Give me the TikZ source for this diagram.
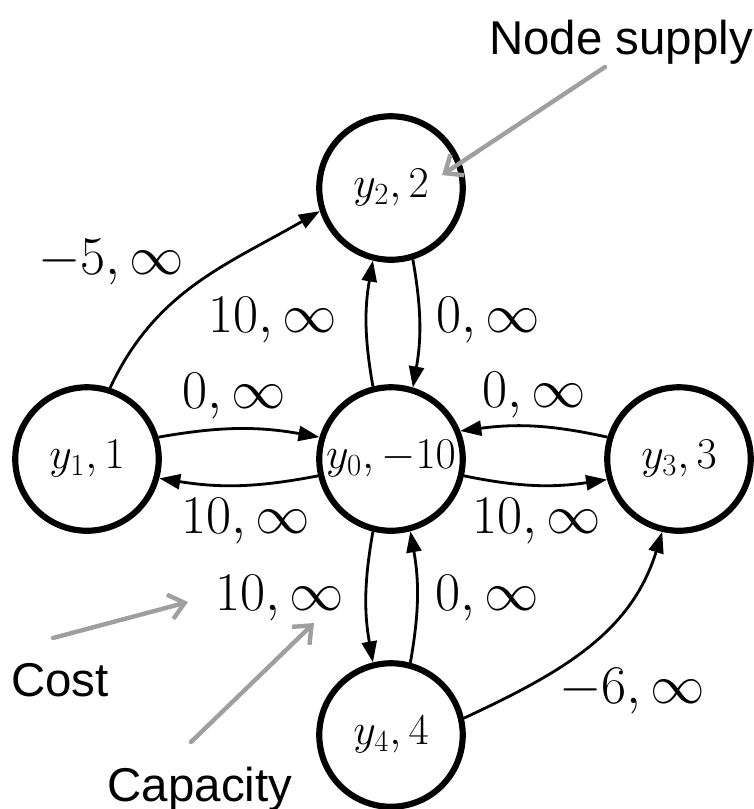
\RequirePackage{fix-cm}
\documentclass[tikz,border=0pt]{standalone}
\usepackage{fontspec}
\newfontfamily\calloutfont{Liberation Sans}
\usetikzlibrary{arrows.meta}

\begin{document}
\begin{tikzpicture}[
    >={Triangle[length=4.2mm, width=3mm]},
    vertex/.style={circle, draw, line width=3.5pt, minimum size=2.87cm,
                   inner sep=0pt, font=\fontsize{25}{25}\selectfont},
    flow/.style={->, line width=1.6pt},
    cost/.style={font=\fontsize{31}{31}\selectfont},
    callout/.style={font=\calloutfont\fontsize{27}{27}\selectfont},
    hint/.style={-{Straight Barb[length=3mm, width=5mm]}, line width=2.5pt,
                 gray!75, line cap=round},
]
\useasboundingbox (0,0) rectangle (15.08,-16.18);
% the five vertices
\node[vertex] (y2) at (7.82,-3.76)  {$y_2, 2$};
\node[vertex] (y1) at (1.74,-9.18)  {$y_1, 1$};
\node[vertex] (y0) at (7.82,-9.18)  {$y_0, -10$};
\node[vertex] (y3) at (13.58,-9.18) {$y_3, 3$};
\node[vertex] (y4) at (7.82,-14.70) {$y_4, 4$};
% arcs round the centre
\draw[flow] (y0.104) to[bend left=10]  (y2.256);
\draw[flow] (y2.287) to[bend left=10]  (y0.73);
\draw[flow] (y1.17)  to[bend left=10]  (y0.163);
\draw[flow] (y0.193) to[bend left=10]  (y1.345);
\draw[flow] (y3.163) to[bend right=10] (y0.22);
\draw[flow] (y0.347) to[bend right=10] (y3.196);
\draw[flow] (y0.256) to[bend right=10] (y4.104);
\draw[flow] (y4.75)  to[bend right=10] (y0.285);
% the two long arcs
\draw[flow] (y1.72) to[out=65, in=210] (y2.198);
\draw[flow] (y4.13) to[out=25, in=253] (y3.257);
% cost, capacity labels
\node[cost] (c12) at (2.22,-5.24)   {$-5, \infty$};
\node[cost] (c02) at (5.46,-6.40)   {$10, \infty$};
\node[cost] (c20) at (9.76,-6.40)   {$0, \infty$};
\node[cost] (c10) at (4.68,-7.92)   {$0, \infty$};
\node[cost] (c01) at (4.92,-10.42)  {$10, \infty$};
\node[cost] (c30) at (10.68,-7.90)  {$0, \infty$};
\node[cost] (c03) at (10.74,-10.42) {$10, \infty$};
\node[cost] (c04) at (5.60,-11.96)  {$10, \infty$};
\node[cost] (c40) at (9.74,-11.96)  {$0, \infty$};
\node[cost] (c43) at (12.64,-13.82) {$-6, \infty$};
% callouts
\node[callout] (supplytext) at (12.42,-0.84) {Node supply};
\node[callout] (costtext) at (1.20,-13.60)   {Cost};
\node[callout] (captext) at (4.00,-15.78)    {Capacity};
\coordinate (supplyfrom) at (12.10,-1.34);
\coordinate (supplyto)   at (8.84,-3.50);
\coordinate (costfrom)   at (1.06,-12.76);
\coordinate (costto)     at (3.76,-12.04);
\coordinate (capfrom)    at (3.82,-14.84);
\coordinate (capto)      at (6.28,-12.46);
\draw[hint] (supplyfrom) -- (supplyto);
\draw[hint] (costfrom) -- (costto);
\draw[hint] (capfrom) -- (capto);
\end{tikzpicture}
\end{document}
